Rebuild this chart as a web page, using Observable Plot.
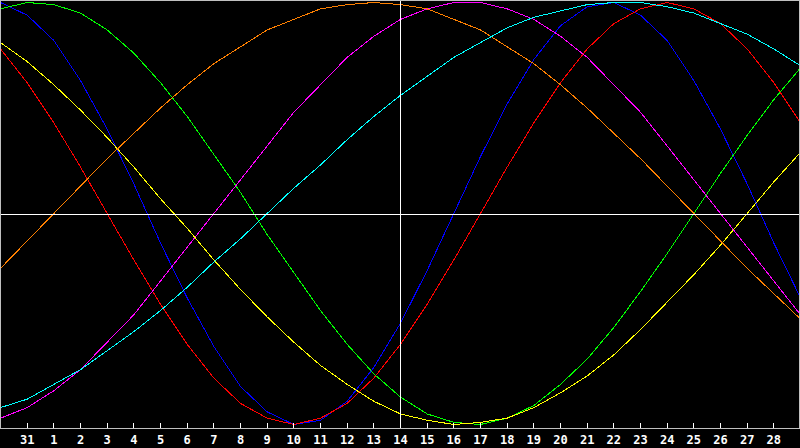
<!DOCTYPE html>
<html><head><meta charset="utf-8">
<script src="https://cdn.jsdelivr.net/npm/d3@7"></script>
<script src="https://cdn.jsdelivr.net/npm/@observablehq/plot@0.6"></script>
<style>html,body{margin:0;padding:0;background:#000;overflow:hidden}</style>
</head><body><div id="chart"></div><script>
// Day labels for each sampled day (index 0..30)
const dayLabels = ["30","31","1","2","3","4","5","6","7","8","9","10","11","12","13","14","15","16","17","18","19","20","21","22","23","24","25","26","27","28","29"];
const today = "14";

// Series names and colours
const names = ["Physical","Emotional","Intellectual","Intuitive","Aesthetic","Awareness","Spiritual"];
const colors = ["#0000ff","#ff0000","#00ff00","#ff00ff","#ffff00","#ff8000","#00ffff"];

// Values (percent), one per day
const physical     = [100,94,82,63,40,14,-14,-40,-63,-82,-94,-100,-98,-89,-73,-52,-27,0,27,52,73,89,98,100,94,82,63,40,14,-14,-40];
const emotional    = [78,62,43,22,0,-22,-43,-62,-78,-90,-97,-100,-97,-90,-78,-62,-43,-22,0,22,43,62,78,90,97,100,97,90,78,62,43];
const intellectual = [97,100,99,95,87,76,62,46,28,10,-10,-28,-46,-62,-76,-87,-95,-99,-100,-97,-91,-81,-69,-54,-37,-19,0,19,37,54,69];
const intuitive    = [-97,-92,-84,-74,-61,-48,-32,-16,0,16,32,48,61,74,84,92,97,100,100,97,92,84,74,61,48,32,16,0,-16,-32,-48];
const aesthetic    = [81,72,61,49,36,22,7,-7,-22,-36,-49,-61,-72,-81,-89,-95,-98,-100,-99,-97,-92,-85,-77,-67,-55,-42,-29,-15,0,15,29];
const awareness    = [-26,-13,0,13,26,38,50,61,71,79,87,92,97,99,100,99,97,92,87,79,71,61,50,38,26,13,0,-13,-26,-38,-50];
const spiritual    = [-92,-88,-81,-74,-65,-56,-46,-35,-23,-12,0,12,23,35,46,56,65,74,81,88,93,96,99,100,100,98,95,90,85,78,70];

const seriesValues = [physical, emotional, intellectual, intuitive, aesthetic, awareness, spiritual];
const rows = names.flatMap((name, k) => seriesValues[k].map((v, i) => ({name, i, v})));
const tickIdx = dayLabels.map((_, i) => i).slice(1, -1);
const todayIdx = dayLabels.indexOf(today);

const chart = Plot.plot({
  width: 800,
  height: 448,
  marginTop: 0,
  marginBottom: 20,
  marginLeft: 0,
  marginRight: 0,
  style: {background: "#000", color: "#fff", fontFamily: "'DejaVu Sans Mono', monospace", fontSize: "12px", fontWeight: "bold"},
  x: {domain: [0, dayLabels.length - 1], axis: null},
  y: {domain: [-101.9, 100.95], axis: null},
  color: {domain: names, range: colors},
  marks: [
    Plot.line(rows, {x: "i", y: "v", z: "name", stroke: "name", strokeWidth: 1, shapeRendering: "crispEdges"}),
    Plot.ruleY([0], {stroke: "#fff", strokeWidth: 1, dy: 1, shapeRendering: "crispEdges"}),
    Plot.ruleX([todayIdx], {stroke: "#fff", strokeWidth: 1, shapeRendering: "crispEdges"}),
    Plot.frame({stroke: "#c0c0c0", insetRight: 1, shapeRendering: "crispEdges"}),
    Plot.axisX({ticks: tickIdx, tickFormat: i => dayLabels[i], tickSize: 5, dy: -5, tickPadding: 6.5, color: "#fff", label: null, shapeRendering: "crispEdges"})
  ]
});
document.getElementById("chart").appendChild(chart);
</script></body></html>
